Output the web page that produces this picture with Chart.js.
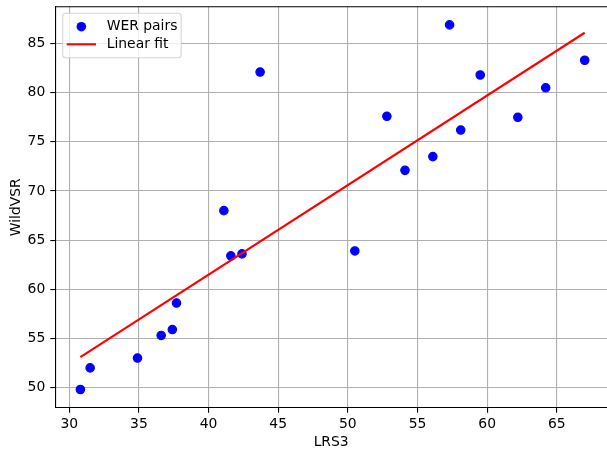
<!DOCTYPE html>
<html>
<head>
<meta charset="utf-8">
<script src="https://cdn.jsdelivr.net/npm/chart.js@4"></script>
<style>
html,body{margin:0;padding:0;background:#fff;}
canvas{display:block;}
</style>
</head>
<body>
<canvas id="c" width="607" height="451"></canvas>
<script>
// ---- data ----
const lrs3 =    [30.8, 31.5, 34.9, 36.6, 37.4, 37.7, 41.1, 41.6, 42.4, 43.7, 50.5, 52.8, 54.1, 56.1, 57.3, 58.1, 59.5, 62.2, 64.2, 67.0];
const wildvsr = [49.8, 52.0, 53.0, 55.3, 55.9, 58.6, 68.0, 63.4, 63.6, 82.1, 63.9, 77.6, 72.1, 73.5, 86.9, 76.2, 81.8, 77.5, 80.5, 83.3];
const fitX = [30.8, 67.0];
const fitY = [53.1, 86.1];
const xTicks = [30, 35, 40, 45, 50, 55, 60, 65];
const yTicks = [50, 55, 60, 65, 70, 75, 80, 85];
const seriesNames = ['WER pairs', 'Linear fit'];
const xTitle = 'LRS3';
const yTitle = 'WildVSR';

const FONT = 'DejaVu Sans';
const FS = 13.9;

const scatterData = lrs3.map((x, i) => ({x: x, y: wildvsr[i]}));
const fitData = fitX.map((x, i) => ({x: x, y: fitY[i]}));

const frameAndLegend = {
  id: 'frameAndLegend',
  afterDraw(chart) {
    const ctx = chart.ctx;
    const a = chart.chartArea;
    ctx.save();
    // top spine
    ctx.strokeStyle = '#000';
    ctx.lineWidth = 1.1;
    ctx.beginPath();
    ctx.moveTo(a.left, a.top);
    ctx.lineTo(a.right, a.top);
    ctx.stroke();
    // legend box
    const lx = a.left + 7.4, ly = a.top + 6.6, lw = 118.5, lh = 44.4, r = 3;
    ctx.beginPath();
    ctx.moveTo(lx + r, ly);
    ctx.lineTo(lx + lw - r, ly);
    ctx.quadraticCurveTo(lx + lw, ly, lx + lw, ly + r);
    ctx.lineTo(lx + lw, ly + lh - r);
    ctx.quadraticCurveTo(lx + lw, ly + lh, lx + lw - r, ly + lh);
    ctx.lineTo(lx + r, ly + lh);
    ctx.quadraticCurveTo(lx, ly + lh, lx, ly + lh - r);
    ctx.lineTo(lx, ly + r);
    ctx.quadraticCurveTo(lx, ly, lx + r, ly);
    ctx.closePath();
    ctx.fillStyle = 'rgba(255,255,255,0.8)';
    ctx.fill();
    ctx.strokeStyle = 'rgba(204,204,204,0.8)';
    ctx.lineWidth = 1.1;
    ctx.stroke();
    // entries
    const row1 = ly + 13.4, row2 = ly + 31.0;
    const hx0 = lx + 4, hx1 = lx + 33.3;
    ctx.fillStyle = '#0000ff';
    ctx.beginPath();
    ctx.arc((hx0 + hx1) / 2, row1, 4.8, 0, Math.PI * 2);
    ctx.fill();
    ctx.strokeStyle = '#ff0000';
    ctx.lineWidth = 2.1;
    ctx.beginPath();
    ctx.moveTo(hx0, row2);
    ctx.lineTo(hx1, row2);
    ctx.stroke();
    ctx.fillStyle = '#000';
    ctx.font = FS + 'px "' + FONT + '"';
    ctx.textBaseline = 'middle';
    ctx.textAlign = 'left';
    ctx.fillText(chart.data.datasets[1].label, lx + 44, row1);
    ctx.fillText(chart.data.datasets[0].label, lx + 44, row2);
    ctx.restore();
  }
};

new Chart(document.getElementById('c'), {
  type: 'scatter',
  data: {
    datasets: [
      {
        type: 'line',
        label: seriesNames[1],
        data: fitData,
        borderColor: '#ff0000',
        borderWidth: 2.1,
        pointRadius: 0,
        fill: false,
        tension: 0,
        order: 0
      },
      {
        type: 'scatter',
        label: seriesNames[0],
        data: scatterData,
        backgroundColor: '#0000ff',
        borderColor: '#0000ff',
        borderWidth: 1.2,
        pointRadius: 4.2,
        pointHoverRadius: 4.2,
        order: 1
      }
    ]
  },
  options: {
    responsive: false,
    animation: false,
    devicePixelRatio: 1,
    events: [],
    layout: {autoPadding: false, padding: {top: 6.7, left: 0, right: 0, bottom: 0}},
    plugins: {legend: {display: false}, tooltip: {enabled: false}},
    scales: {
      x: {
        type: 'linear',
        min: 29.0,
        max: 68.6,
        afterBuildTicks(s) { s.ticks = xTicks.map(v => ({value: v})); },
        afterFit(s) { s.height = 43.3; s.paddingLeft = 0; s.paddingRight = 0; s.paddingTop = 0; s.paddingBottom = 0; },
        ticks: {
          color: '#000',
          font: {family: FONT, size: FS},
          padding: 3,
          maxRotation: 0,
          autoSkip: false,
          callback: v => String(v)
        },
        grid: {color: '#b0b0b0', lineWidth: 1.1, tickLength: 5, tickColor: '#000', tickWidth: 1.1},
        border: {color: '#000', width: 1.1},
        title: {display: true, text: xTitle, color: '#000', font: {family: FONT, size: FS}, padding: {top: 0, bottom: 0}}
      },
      y: {
        type: 'linear',
        min: 47.95,
        max: 88.75,
        afterBuildTicks(s) { s.ticks = yTicks.map(v => ({value: v})); },
        afterFit(s) { s.width = 55.3; s.paddingLeft = 0; s.paddingRight = 0; s.paddingTop = 0; s.paddingBottom = 0; },
        ticks: {
          color: '#000',
          font: {family: FONT, size: FS},
          padding: 5,
          autoSkip: false,
          callback: v => String(v)
        },
        grid: {color: '#b0b0b0', lineWidth: 1.1, tickLength: 5, tickColor: '#000', tickWidth: 1.1},
        border: {color: '#000', width: 1.1},
        title: {display: true, text: yTitle, color: '#000', font: {family: FONT, size: FS}, padding: {top: 8, bottom: 0}}
      }
    }
  },
  plugins: [frameAndLegend]
});
</script>
</body>
</html>
